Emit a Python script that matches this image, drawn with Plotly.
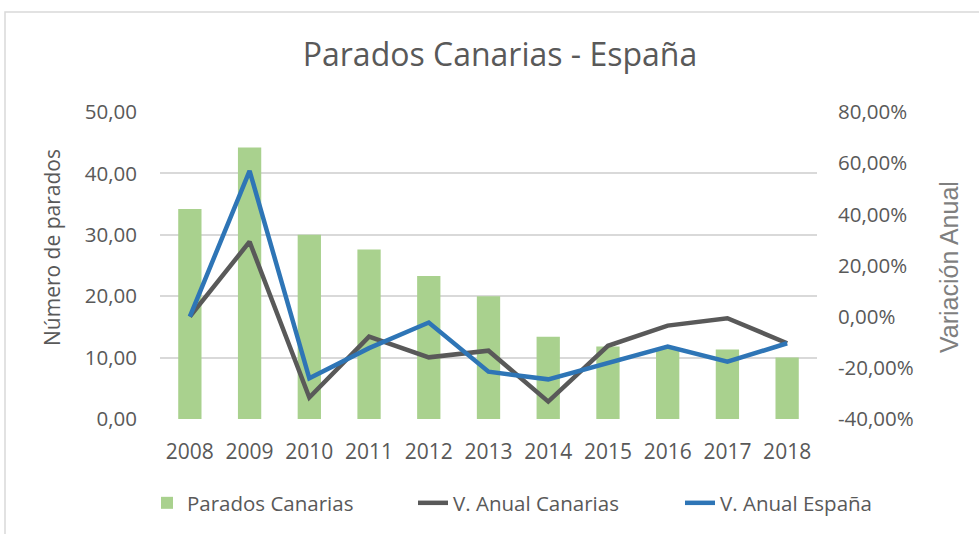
import plotly.graph_objects as go

years = ["2008", "2009", "2010", "2011", "2012", "2013", "2014", "2015", "2016", "2017", "2018"]
parados_canarias = [34.2, 44.2, 30.0, 27.6, 23.3, 20.0, 13.4, 11.8, 11.5, 11.3, 10.0]
var_canarias = [0.0, 29.3, -31.6, -7.8, -15.9, -13.3, -33.2, -11.4, -3.5, -0.6, -10.4]
var_espana = [0.0, 57.0, -24.1, -12.3, -2.3, -21.5, -24.5, -18.2, -11.7, -17.6, -10.4]

left_ticks = [0, 10, 20, 30, 40, 50]
right_ticks = [-40, -20, 0, 20, 40, 60, 80]
left_ticktext = [f"{v:.2f}".replace(".", ",") for v in left_ticks]
right_ticktext = [f"{v:.2f}%".replace(".", ",") for v in right_ticks]

FONT = "Open Sans"
TXT = "#595959"
GRID = "#d9d9d9"

W, H = 979, 534
L, R, T, B = 160, 162, 112, 115
pw, ph = W - L - R, H - T - B

def px(xp):
    return (xp - L) / pw

def py(yp):
    return (H - B - yp) / ph

fig = go.Figure()
fig.add_trace(go.Bar(x=years, y=parados_canarias, name="Parados Canarias",
                     marker=dict(color="#a9d18e", line=dict(width=0)), legend="legend"))
fig.add_trace(go.Scatter(x=years, y=var_canarias, name="V. Anual Canarias", yaxis="y2",
                         mode="lines", line=dict(color="#595959", width=4.5), legend="legend2"))
fig.add_trace(go.Scatter(x=years, y=var_espana, name="V. Anual España", yaxis="y2",
                         mode="lines", line=dict(color="#2e75b6", width=4.5), legend="legend3"))

def leg(text_start):
    return dict(orientation="h", x=px(text_start - 42), xanchor="left",
                y=py(503), yanchor="middle", bgcolor="rgba(0,0,0,0)",
                font=dict(family=FONT, size=20.5, color=TXT))

fig.update_layout(
    width=W, height=H,
    margin=dict(l=L, r=R, t=T, b=B, autoexpand=False),
    paper_bgcolor="white", plot_bgcolor="white",
    font=dict(family=FONT, color=TXT, size=20.5),
    title=dict(text="Parados Canarias - España", x=500 / W, xanchor="center",
               y=1 - 55 / H, yanchor="middle",
               font=dict(family=FONT, size=32, color=TXT)),
    bargap=0.61,
    showlegend=True,
    legend=leg(189),
    legend2=leg(455),
    legend3=leg(722),
    xaxis=dict(type="category", showgrid=False, zeroline=False, showline=False,
               ticks="", ticklabelstandoff=18, tickfont=dict(size=21, color=TXT)),
    yaxis=dict(range=[0, 50], tickmode="array", tickvals=left_ticks, ticktext=left_ticktext,
               showgrid=True, gridcolor=GRID, gridwidth=1.5, zeroline=False,
               showline=False, ticks="", ticklabelstandoff=22,
               tickfont=dict(size=20.5, color=TXT)),
    yaxis2=dict(range=[-40, 80], tickmode="array", tickvals=right_ticks, ticktext=right_ticktext,
                overlaying="y", side="right", showgrid=False, zeroline=False,
                showline=False, ticks="", ticklabelstandoff=20,
                tickfont=dict(size=20.5, color=TXT)),
    annotations=[
        dict(text="Número de parados", xref="paper", yref="paper", x=px(52), y=py(248),
             xanchor="center", yanchor="middle", textangle=-90, showarrow=False,
             font=dict(family=FONT, size=21, color=TXT)),
        dict(text="Variación Anual", xref="paper", yref="paper", x=px(949), y=py(267),
             xanchor="center", yanchor="middle", textangle=-90, showarrow=False,
             font=dict(family="Liberation Sans", size=25, color="#7f7f7f")),
    ],
    shapes=[dict(type="rect", xref="paper", yref="paper",
                 x0=px(5), x1=px(990), y0=py(545), y1=py(12),
                 line=dict(color=GRID, width=1.5), fillcolor="rgba(0,0,0,0)", layer="below")],
)

fig.write_html("out.html", config={"displayModeBar": False},
               post_script="document.body.style.margin='0';document.body.style.overflow='hidden';")
